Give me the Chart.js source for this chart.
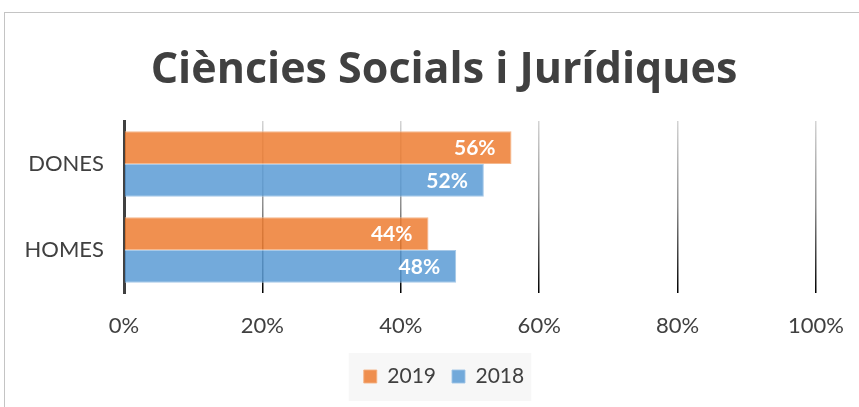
<!DOCTYPE html>
<html>
<head>
<meta charset="utf-8">
<script src="https://cdn.jsdelivr.net/npm/chart.js@4/dist/chart.umd.min.js"></script>
<style>
  html, body { margin: 0; padding: 0; background: #fff; }
  #wrap { position: relative; width: 859px; height: 407px; overflow: hidden; }
  #frame { position: absolute; left: 4px; top: 12px; width: 900px; height: 450px; border: 1px solid #c4c4c4; box-sizing: border-box; pointer-events: none; }
  canvas { position: absolute; left: 0; top: 0; }
</style>
</head>
<body>
<div id="wrap">
  <div id="frame"></div>
  <canvas id="c" width="868" height="407"></canvas>
</div>
<script>
const titleText = 'Ciències Socials i Jurídiques';
const categories = ['DONES', 'HOMES'];
const seriesNames = ['2019', '2018'];
const values2019 = [56, 44];
const values2018 = [52, 48];
const xTicks = [0, 20, 40, 60, 80, 100];

const textColor = '#404040';

const labelPlugin = {
  id: 'barLabels',
  afterDatasetsDraw(chart) {
    const ctx = chart.ctx;
    ctx.save();
    ctx.font = 'bold 21px Lato';
    ctx.fillStyle = '#ffffff';
    ctx.textAlign = 'right';
    ctx.textBaseline = 'middle';
    chart.data.datasets.forEach((ds, di) => {
      const meta = chart.getDatasetMeta(di);
      meta.data.forEach((bar, i) => {
        ctx.fillText(ds.data[i] + '%', bar.x - 16, bar.y + 1);
      });
    });
    ctx.restore();
  }
};

const legendBgPlugin = {
  id: 'legendBg',
  beforeDraw(chart) {
    const lg = chart.legend;
    if (!lg || !lg.legendHitBoxes || !lg.legendHitBoxes.length) return;
    const hb = lg.legendHitBoxes;
    let l = Infinity, r = -Infinity, t = Infinity, b = -Infinity;
    hb.forEach(h => { l = Math.min(l, h.left); r = Math.max(r, h.left + h.width); t = Math.min(t, h.top); b = Math.max(b, h.top + h.height); });
    const ctx = chart.ctx;
    ctx.save();
    ctx.fillStyle = '#f7f7f7';
    ctx.fillRect(l - 15, t - 13, (r - l) + 22, (b - t) + 27);
    ctx.restore();
  }
};

new Chart(document.getElementById('c'), {
  type: 'bar',
  data: {
    labels: categories,
    datasets: [
      { label: seriesNames[0], data: values2019, backgroundColor: 'rgba(237,125,49,0.85)', borderColor: 'rgba(244,177,131,0.9)', borderWidth: 1 },
      { label: seriesNames[1], data: values2018, backgroundColor: 'rgba(91,155,213,0.85)', borderColor: 'rgba(157,195,230,0.9)', borderWidth: 1 }
    ]
  },
  options: {
    indexAxis: 'y',
    responsive: false,
    animation: false,
    devicePixelRatio: 1,
    layout: { padding: { left: 20, right: 0, top: 0, bottom: 10 } },
    datasets: { bar: { categoryPercentage: 0.76, barPercentage: 1 } },
    scales: {
      x: {
        min: 0, max: 100,
        afterBuildTicks(scale) { scale.ticks = xTicks.map(v => ({ value: v })); },
        afterFit(scale) { scale.height = 57; },
        border: { display: false },
        grid: {
          drawTicks: false,
          lineWidth: 1.5,
          color(ctx) {
            if (ctx.index === 0) return 'rgba(0,0,0,0)';
            const area = ctx.chart.chartArea;
            if (!area) return '#999';
            const g = ctx.chart.ctx.createLinearGradient(0, area.top, 0, area.bottom);
            g.addColorStop(0, '#d4d4d4');
            g.addColorStop(0.5, '#8c8c8c');
            g.addColorStop(1, '#000000');
            return g;
          }
        },
        ticks: {
          padding: 20,
          color: textColor,
          font: { family: 'Lato', size: 22 },
          callback: v => v + '%'
        }
      },
      y: {
        afterFit(scale) { scale.width = 124 - 20; },
        border: { display: true, color: '#404040', width: 3 },
        grid: { display: false, drawTicks: false },
        ticks: {
          padding: 20,
          color: textColor,
          font: { family: 'Lato', size: 22 }
        }
      },
      yRight: {
        type: 'category',
        position: 'right',
        afterFit(scale) { scale.width = 868 - 816; },
        border: { display: false },
        grid: { display: false, drawTicks: false },
        ticks: { display: false }
      }
    },
    plugins: {
      title: {
        display: true,
        text: titleText,
        color: textColor,
        font: { family: 'Open Sans', size: 43, weight: 'bold', lineHeight: 1.2 },
        padding: { top: 45, bottom: 24.4 }
      },
      legend: {
        position: 'bottom',
        labels: {
          color: textColor,
          font: { family: 'Lato', size: 21 },
          boxWidth: 13,
          boxHeight: 13,
          padding: 16
        }
      },
      tooltip: { enabled: false }
    }
  },
  plugins: [labelPlugin, legendBgPlugin]
});
</script>
</body>
</html>
